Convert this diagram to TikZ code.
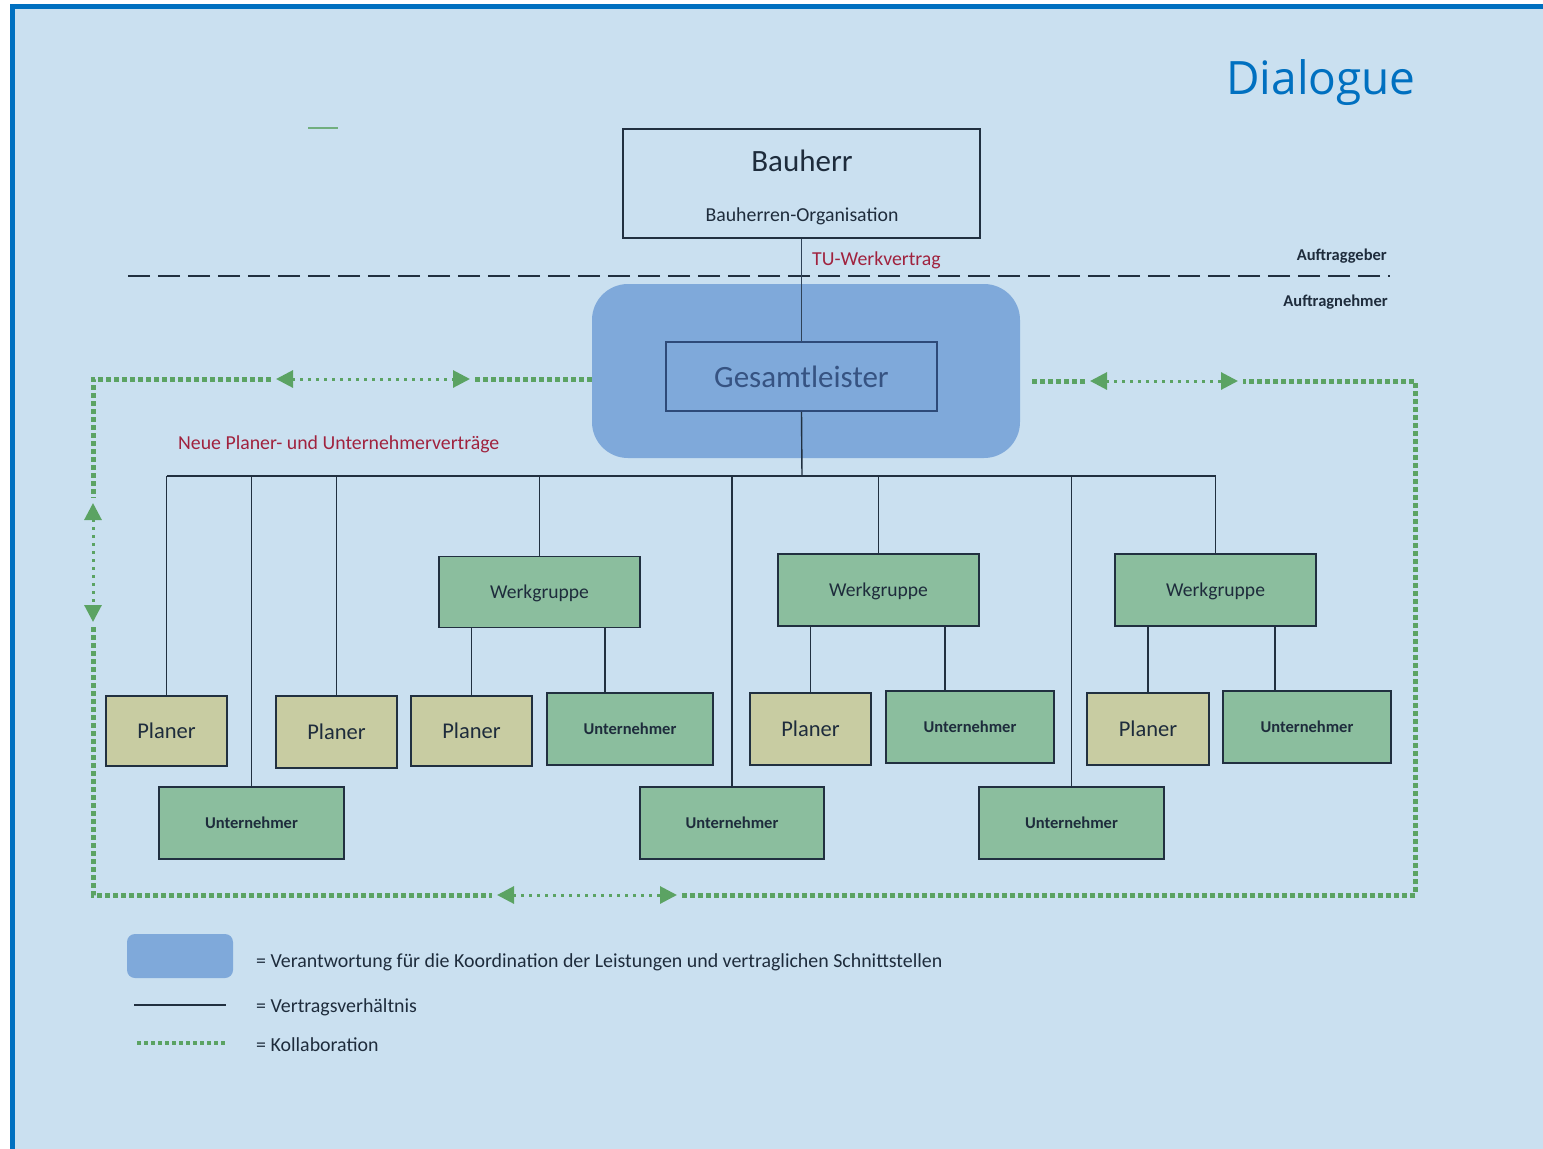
\documentclass[tikz,border=0pt]{standalone}
\usepackage{fontspec}
\setmainfont{Carlito}
\newfontfamily\titlefont{Open Sans}
\usepackage{xcolor}
\usepackage{tikz}
\usetikzlibrary{arrows.meta,positioning}
\definecolor{bgblue}{RGB}{202,224,240}
\definecolor{frameblue}{RGB}{0,112,192}
\definecolor{gbox}{RGB}{127,169,218}
\definecolor{unfill}{RGB}{139,190,158}
\definecolor{plfill}{RGB}{200,204,162}
\definecolor{kgreen}{RGB}{91,163,99}
\definecolor{lnk}{RGB}{33,48,64}
\definecolor{txt}{RGB}{30,44,60}
\definecolor{vred}{RGB}{160,34,62}
\definecolor{glblue}{RGB}{46,74,120}
\tikzset{
  box/.style={draw=lnk, line width=1.6pt, inner sep=0pt, text=txt, text depth=0pt},
  plbox/.style={box, fill=plfill, minimum width=121pt, minimum height=70pt, font=\fontsize{22.5}{25}\selectfont},
  unbox/.style={box, fill=unfill, minimum width=166pt, minimum height=72pt, font=\bfseries\fontsize{16.5}{19}\selectfont},
  wgbox/.style={box, fill=unfill, minimum width=201pt, minimum height=71pt, font=\fontsize{19.6}{22}\selectfont},
  redtxt/.style={text=vred, inner sep=0pt, anchor=base west, font=\fontsize{19.8}{22}\selectfont},
  smalltxt/.style={text=txt, inner sep=0pt, anchor=base east, font=\bfseries\fontsize{16.5}{19}\selectfont},
  legtxt/.style={text=txt, inner sep=0pt, anchor=base west, font=\fontsize{19.9}{22}\selectfont},
  vline/.style={draw=lnk, line width=1.4pt},
  kdots/.style={draw=kgreen, line width=5pt, dash pattern=on 5pt off 3pt},
  kfine/.style={draw=kgreen, line width=3pt, dash pattern=on 3pt off 5pt,
    {Triangle[length=17pt,width=17pt]}-{Triangle[length=17pt,width=17pt]}}
}

\begin{document}
\begin{tikzpicture}[x=1pt, y=-1pt]
\useasboundingbox (0,0) rectangle (1543,1149);
% frame and background
\fill[bgblue] (10,4) rectangle (1543,1149);
\draw[frameblue, line width=4.5pt] (12.25,1149) -- (12.25,6.25) -- (1543,6.25);
\draw[kgreen, line width=1.5pt, opacity=0.8] (308,128) -- (338,128);

\node[text=frameblue, font=\titlefont\fontsize{46}{50}\selectfont, anchor=base] (ttl) at (1321,94) {Dialogue};

% client side
\node[box, minimum width=357pt, minimum height=109pt] (bh) at (801.5,183.5) {};
\node[text=txt, inner sep=0pt, anchor=base, font=\fontsize{31}{33}\selectfont] (bhname) at (802,171) {Bauherr};
\node[text=txt, inner sep=0pt, anchor=base, font=\fontsize{19.8}{22}\selectfont] (bhorg) at (802,221) {Bauherren-Organisation};

\draw[lnk, line width=2pt, dash pattern=on 22pt off 8pt] (128,276) -- (1390,276);
\node[smalltxt] (agb) at (1387,260) {Auftraggeber};
\node[smalltxt] (agn) at (1388,306) {Auftragnehmer};

% contractor
\node[fill=gbox, rounded corners=36pt, minimum width=428pt, minimum height=174pt] (gbx) at (806,371) {};
\node[draw=glblue, line width=1.6pt, minimum width=271pt, minimum height=69pt, inner sep=0pt, text=glblue!90!gbox, text depth=0pt, font=\fontsize{31}{33}\selectfont] (gl) at (801.5,376.5) {Gesamtleister};
\draw[vline, draw=lnk!85!gbox] (bh.south) -- (gl.north);
\node[redtxt] (tuw) at (812,265) {TU-Werkvertrag};
\node[redtxt] (npu) at (178,449) {Neue Planer- und Unternehmerverträge};

% boxes
\node[plbox] (pl1) at (166.5,731) {Planer};
\node[plbox, minimum height=72pt] (pl2) at (336.5,732) {Planer};
\node[wgbox] (wg1) at (539.5,592) {Werkgruppe};
\node[plbox] (pl3) at (471.5,731) {Planer};
\node[unbox] (un1) at (630,729) {Unternehmer};
\node[wgbox, minimum height=72pt] (wg2) at (878.5,590) {Werkgruppe};
\node[plbox, minimum height=72pt] (pl4) at (810.5,729) {Planer};
\node[unbox, minimum width=168pt] (un2) at (970,727) {Unternehmer};
\node[wgbox, minimum height=72pt] (wg3) at (1215.5,590) {Werkgruppe};
\node[plbox, minimum width=122pt, minimum height=72pt] (pl5) at (1148,729) {Planer};
\node[unbox, minimum width=168pt] (un3) at (1307,727) {Unternehmer};
\node[unbox, minimum width=185pt] (ub1) at (251.5,823) {Unternehmer};
\node[unbox, minimum width=184pt] (ub2) at (732,823) {Unternehmer};
\node[unbox, minimum width=185pt] (ub3) at (1071.5,823) {Unternehmer};

% contracts
\coordinate (bus) at (802,476);
\draw[vline] (gl.south) -- (bus);
\draw[vline] (pl1.north |- bus) -- (wg3.north |- bus);
\foreach \n in {pl1,ub1,pl2,wg1,ub2,wg2,ub3,wg3}
  \draw[vline] (\n.north) -- (\n.north |- bus);
\draw[vline] (pl3.north) -- (pl3.north |- wg1.south);
\draw[vline] ([xshift=-25pt]un1.north) -- ([xshift=-25pt]un1.north |- wg1.south);
\draw[vline] (pl4.north) -- (pl4.north |- wg2.south);
\draw[vline] ([xshift=-25pt]un2.north) -- ([xshift=-25pt]un2.north |- wg2.south);
\draw[vline] (pl5.north) -- (pl5.north |- wg3.south);
\draw[vline] ([xshift=-32pt]un3.north) -- ([xshift=-32pt]un3.north |- wg3.south);

% collaboration loop
\coordinate (k1) at (93,379);
\coordinate (k2) at (93,895);
\coordinate (k3) at (1415,895);
\coordinate (k4) at (1415,381);
\draw[kdots] (gbx.west |- k1) -- (475,379) (271,379) -- (k1) -- (93,498)
  (93,627) -- (k2) -- (492,895) (682,895) -- (k3) -- (k4) -- (1243,381)
  (1085,381) -- (1030,381);
\draw[kfine] (276,379) -- (470,379);
\draw[kfine] (93,503) -- (93,622);
\draw[kfine] (497,895) -- (677,895);
\draw[kfine] (1090,381) -- (1238,381);

% legend
\node[fill=gbox, rounded corners=8pt, minimum width=106pt, minimum height=44pt] (lg1) at (180,956) {};
\node[legtxt] (lt1) at (256,967) {= Verantwortung für die Koordination der Leistungen und vertraglichen Schnittstellen};
\coordinate (lv1) at (134,1005);
\coordinate (lv2) at (226,1005);
\draw[vline] (lv1) -- (lv2);
\node[legtxt] (lt2) at (256,1012) {= Vertragsverhältnis};
\coordinate (lk1) at (137,1043);
\coordinate (lk2) at (226,1043);
\draw[kgreen, line width=3.5pt, dash pattern=on 4pt off 3pt] (lk1) -- (lk2);
\node[legtxt] (lt3) at (256,1051) {= Kollaboration};
\end{tikzpicture}
\end{document}
